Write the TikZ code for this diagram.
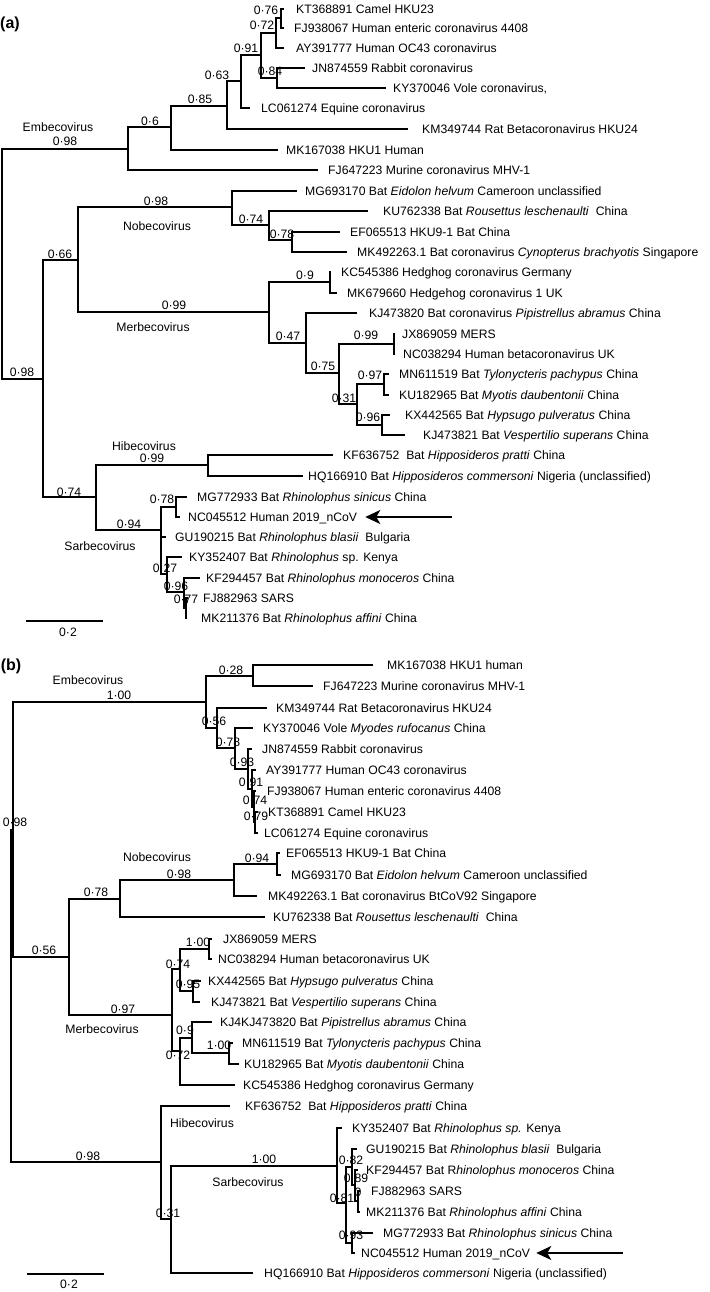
\documentclass[tikz,border=0pt]{standalone}
\usepackage{fontspec}
\setmainfont{Liberation Sans}
\usetikzlibrary{arrows.meta}
\tikzset{
    branch/.style={line width=1.1pt},
    leaf/.style={anchor=west, inner xsep=#1, inner ysep=0pt, text height=8.5pt, text depth=0pt},
    leaf/.default=8pt,
    pp/.style={inner sep=0pt},
    clade/.style={inner sep=0pt},
    panel/.style={inner sep=0pt, font=\fontsize{16}{18}\selectfont\bfseries},
    pointer/.style={line width=1.8pt, -{Stealth[length=15pt, width=14pt, inset=4pt]}},
    scalebar/.style={line width=1.1pt}
}

\begin{document}
\begin{tikzpicture}[x=1pt, y=-1pt, font=\fontsize{12.2}{15}\selectfont]
\useasboundingbox (0,0) rectangle (709,1292);

\node[panel] (pa) at (10,24) {(a)};

\coordinate (ra) at (2,264);
\coordinate (ea) at (128,149);
\coordinate (a6) at (171,127);
\coordinate (a85) at (227,106);
\coordinate (a63) at (241,81);
\coordinate (a91) at (261,55);
\coordinate (a72) at (276,33);
\coordinate (a76) at (281,18);
\coordinate (a84) at (277,78);
\coordinate (a2) at (43,379);
\coordinate (a66) at (78,260);
\coordinate (noba) at (232,207);
\coordinate (a74n) at (269,225);
\coordinate (a78n) at (292,240);
\coordinate (merba) at (269,312);
\coordinate (a9) at (330,282);
\coordinate (a47) at (306,343);
\coordinate (a75) at (339,373);
\coordinate (a99) at (394,344);
\coordinate (a31) at (357,404);
\coordinate (a97) at (384,384);
\coordinate (a96) at (382,425);
\coordinate (hsa) at (96,497);
\coordinate (hiba) at (208,465);
\coordinate (sarba) at (161,530);
\coordinate (a78s) at (176,507);
\coordinate (a27) at (167,574);
\coordinate (a96s) at (184,592);
\coordinate (a77) at (186,608);

\node[leaf=12pt] (kt368891a) at (284,9) {KT368891 Camel HKU23};
\node[leaf=10pt] (fj938067a) at (284,28) {FJ938067 Human enteric coronavirus 4408};
\node[leaf=12pt] (ay391777a) at (284,48) {AY391777 Human OC43 coronavirus};
\node[leaf=7pt] (jn874559a) at (305,68) {JN874559 Rabbit coronavirus};
\node[leaf=7pt] (ky370046a) at (386,88) {KY370046 Vole coronavirus,};
\node[leaf=11pt] (lc061274a) at (250,108) {LC061274 Equine coronavirus};
\node[leaf=14pt] (km349744a) at (408,129) {KM349744 Rat Betacoronavirus HKU24};
\node[leaf] (mk167038a) at (278,150) {MK167038 HKU1 Human};
\node[leaf=10pt] (fj647223a) at (318,170) {FJ647223 Murine coronavirus MHV-1};
\node[leaf] (mg693170a) at (297,191) {MG693170 Bat \textit{Eidolon helvum} Cameroon unclassified};
\node[leaf=15pt] (ku762338a) at (368,211) {KU762338 Bat \textit{Rousettus leschenaulti}\ \ China};
\node[leaf=10pt] (ef065513a) at (340,232) {EF065513 HKU9-1 Bat China};
\node[leaf=10pt] (mk492263a) at (347,252) {MK492263.1 Bat coronavirus \textit{Cynopterus brachyotis} Singapore};
\node[leaf=10pt] (kc545386a) at (331,272) {KC545386 Hedghog coronavirus Germany};
\node[leaf=10pt] (mk679660a) at (337,293) {MK679660 Hedgehog coronavirus 1 UK};
\node[leaf=12pt] (kj473820a) at (357,313) {KJ473820 Bat coronavirus \textit{Pipistrellus abramus} China};
\node[leaf=7pt] (jx869059a) at (395,334) {JX869059 MERS};
\node[leaf] (nc038294a) at (395,354) {NC038294 Human betacoronavirus UK};
\node[leaf=10pt] (mn611519a) at (389,374) {MN611519 Bat \textit{Tylonycteris pachypus} China};
\node[leaf=10pt] (ku182965a) at (389,395) {KU182965 Bat \textit{Myotis daubentonii} China};
\node[leaf=15pt] (kx442565a) at (390,415) {KX442565 Bat \textit{Hypsugo pulveratus} China};
\node[leaf=18pt] (kj473821a) at (405,435) {KJ473821 Bat \textit{Vespertilio superans} China};
\node[leaf=10pt] (kf636752a) at (333,455) {KF636752\ \ Bat \textit{Hipposideros pratti} China};
\node[leaf=5pt] (hq166910a) at (303,476) {HQ166910 Bat \textit{Hipposideros commersoni} Nigeria (unclassified)};
\node[leaf=10pt] (mg772933a) at (187,497) {MG772933 Bat \textit{Rhinolophus sinicus} China};
\node[leaf] (nc045512a) at (180,517) {NC045512 Human 2019\_nCoV};
\node[leaf=9pt] (gu190215a) at (166,537) {GU190215 Bat \textit{Rhinolophus blasii}\ \ Bulgaria};
\node[leaf=7pt] (ky352407a) at (182,557) {KY352407 Bat \textit{Rhinolophus} sp. Kenya};
\node[leaf=6pt] (kf294457a) at (200,578) {KF294457 Bat \textit{Rhinolophus monoceros} China};
\node[leaf=15pt] (fj882963a) at (188,598) {FJ882963 SARS};
\node[leaf=14pt] (mk211376a) at (187,618) {MK211376 Bat \textit{Rhinolophus affini} China};

\draw[branch] (ra) |- (ea) (ra) |- (a2);
\draw[branch] (ea) |- (a6) (ea) |- (fj647223a);
\draw[branch] (a6) |- (a85) (a6) |- (mk167038a);
\draw[branch] (a85) |- (a63) (a85) |- (km349744a);
\draw[branch] (a63) |- (a91) (a63) |- (lc061274a);
\draw[branch] (a91) |- (a72) (a91) |- (a84);
\draw[branch] (a72) |- (a76) (a72) |- (ay391777a);
\draw[branch] (a76) |- (kt368891a) (a76) |- (fj938067a);
\draw[branch] (a84) |- (jn874559a) (a84) |- (ky370046a);
\draw[branch] (a2) |- (a66) (a2) |- (hsa);
\draw[branch] (a66) |- (noba) (a66) |- (merba);
\draw[branch] (noba) |- (mg693170a) (noba) |- (a74n);
\draw[branch] (a74n) |- (ku762338a) (a74n) |- (a78n);
\draw[branch] (a78n) |- (ef065513a) (a78n) |- (mk492263a);
\draw[branch] (merba) |- (a9) (merba) |- (a47);
\draw[branch] (a9) |- (kc545386a) (a9) |- (mk679660a);
\draw[branch] (a47) |- (kj473820a) (a47) |- (a75);
\draw[branch] (a75) |- (a99) (a75) |- (a31);
\draw[branch] (a99) |- (jx869059a) (a99) |- (nc038294a);
\draw[branch] (a31) |- (a97) (a31) |- (a96);
\draw[branch] (a97) |- (mn611519a) (a97) |- (ku182965a);
\draw[branch] (a96) |- (kx442565a) (a96) |- (kj473821a);
\draw[branch] (hsa) |- (hiba) (hsa) |- (sarba);
\draw[branch] (hiba) |- (kf636752a) (hiba) |- (hq166910a);
\draw[branch] (sarba) |- (a78s) (sarba) |- (gu190215a) (sarba) |- (a27);
\draw[branch] (a78s) |- (mg772933a) (a78s) |- (nc045512a);
\draw[branch] (a27) |- (ky352407a) (a27) |- (a96s);
\draw[branch] (a96s) |- (kf294457a) (a96s) |- (a77);
\draw[branch] (a77) |- (fj882963a) (a77) |- (mk211376a);

\node[pp] (pa76) at (266,10) {0·76};
\node[pp] (pa72) at (262,25) {0·72};
\node[pp] (pa91) at (246,48) {0·91};
\node[pp] (pa84) at (270,71) {0·84};
\node[pp] (pa63) at (217,75) {0·63};
\node[pp] (pa85) at (200,99) {0·85};
\node[pp] (pa6) at (150,121) {0·6};
\node[clade] (cemba) at (58,127) {Embecovirus};
\node[pp] (pemba) at (65,141) {0·98};
\node[pp] (pnoba) at (156,201) {0·98};
\node[clade] (cnoba) at (157,226) {Nobecovirus};
\node[pp] (pa74n) at (251,219) {0·74};
\node[pp] (pa78n) at (282,234) {0·78};
\node[pp] (pa66) at (60,254) {0·66};
\node[pp] (pa9) at (305,275) {0·9};
\node[pp] (pmerba) at (174,305) {0·99};
\node[clade] (cmerba) at (153,327) {Merbecovirus};
\node[pp] (pa47) at (288,336) {0·47};
\node[pp] (pra) at (22,372) {0·98};
\node[pp] (pa75) at (323,366) {0·75};
\node[pp] (pa99) at (366,335) {0·99};
\node[pp] (pa97) at (370,375) {0·97};
\node[pp] (pa31) at (344,398) {0·31};
\node[pp] (pa96) at (368,417) {0·96};
\node[clade] (chiba) at (144,446) {Hibecovirus};
\node[pp] (phiba) at (152,458) {0·99};
\node[pp] (phsa) at (69,492) {0·74};
\node[pp] (pa78s) at (162,499) {0·78};
\node[pp] (psarba) at (129,524) {0·94};
\node[clade] (csarba) at (100,546) {Sarbecovirus};
\node[pp] (pa27) at (165,568) {0·27};
\node[pp] (pa96s) at (176,586) {0·96};
\node[pp] (pa77) at (186,599) {0·77};

\coordinate (arra) at (452,517);
\draw[pointer] (arra) -- (nc045512a.east);

\coordinate (sba1) at (26,621);
\coordinate (sba2) at (103,621);
\draw[scalebar] (sba1) -- (sba2);
\node[pp] (sla) at (68,632) {0·2};

\node[panel] (pb) at (11,666) {(b)};

\coordinate (rb) at (11,996);
\coordinate (b2) at (13,830);
\coordinate (eb) at (206,702);
\coordinate (b28) at (253,676);
\coordinate (b56e) at (217,728);
\coordinate (b78e) at (235,748);
\coordinate (b93) at (248,769);
\coordinate (b91) at (252,789);
\coordinate (b74) at (254,807);
\coordinate (b79) at (255,822);
\coordinate (b56) at (69,957);
\coordinate (b78n) at (120,899);
\coordinate (nobb) at (234,880);
\coordinate (b94) at (277,864);
\coordinate (merbb) at (172,1015);
\coordinate (b74m) at (180,969);
\coordinate (b100m) at (209,949);
\coordinate (b95) at (193,991);
\coordinate (b72) at (180,1051);
\coordinate (b9) at (192,1038);
\coordinate (b100t) at (229,1053);
\coordinate (hsb) at (161,1162);
\coordinate (b31) at (171,1219);
\coordinate (sarbb) at (337,1166);
\coordinate (b81) at (346,1203);
\coordinate (b82) at (352,1167);
\coordinate (b89) at (355,1185);
\coordinate (b0) at (358,1201);
\coordinate (b93s) at (352,1243);

\node[leaf=14pt] (mk167038b) at (373,665) {MK167038 HKU1 human};
\node[leaf=10pt] (fj647223b) at (313,686) {FJ647223 Murine coronavirus MHV-1};
\node[leaf=9pt] (km349744b) at (267,708) {KM349744 Rat Betacoronavirus HKU24};
\node[leaf=10pt] (ky370046b) at (253,728) {KY370046 Vole \textit{Myodes rufocanus} China};
\node[leaf=10pt] (jn874559b) at (252,749) {JN874559 Rabbit coronavirus};
\node[leaf=10pt] (ay391777b) at (256,770) {AY391777 Human OC43 coronavirus};
\node[leaf=11pt] (fj938067b) at (256,791) {FJ938067 Human enteric coronavirus 4408};
\node[leaf=10pt] (kt368891b) at (258,812) {KT368891 Camel HKU23};
\node[leaf=6pt] (lc061274b) at (258,833) {LC061274 Equine coronavirus};
\node[leaf=6pt] (ef065513b) at (280,853) {EF065513 HKU9-1 Bat China};
\node[leaf=10pt] (mg693170b) at (281,875) {MG693170 Bat \textit{Eidolon helvum} Cameroon unclassified};
\node[leaf=11pt] (mk492263b) at (257,896) {MK492263.1 Bat coronavirus BtCoV92 Singapore};
\node[leaf] (ku762338b) at (265,917) {KU762338 Bat \textit{Rousettus leschenaulti}\ \ China};
\node[leaf=11pt] (jx869059b) at (212,939) {JX869059 MERS};
\node[leaf=6pt] (nc038294b) at (212,959) {NC038294 Human betacoronavirus UK};
\node[leaf=7pt] (kx442565b) at (201,981) {KX442565 Bat \textit{Hypsugo pulveratus} China};
\node[leaf=11pt] (kj473821b) at (200,1002) {KJ473821 Bat \textit{Vespertilio superans} China};
\node[leaf] (kj473820b) at (212,1022) {KJ4KJ473820 Bat \textit{Pipistrellus abramus} China};
\node[leaf=9pt] (mn611519b) at (233,1043) {MN611519 Bat \textit{Tylonycteris pachypus} China};
\node[leaf=5pt] (ku182965b) at (239,1064) {KU182965 Bat \textit{Myotis daubentonii} China};
\node[leaf] (kc545386b) at (235,1085) {KC545386 Hedghog coronavirus Germany};
\node[leaf=15pt] (kf636752b) at (230,1106) {KF636752\ \ Bat \textit{Hipposideros pratti} China};
\node[leaf=10pt] (ky352407b) at (342,1128) {KY352407 Bat \textit{Rhinolophus sp.} Kenya};
\node[leaf=9pt] (gu190215b) at (357,1149) {GU190215 Bat \textit{Rhinolophus blasii}\ \ Bulgaria};
\node[leaf] (kf294457b) at (358,1170) {KF294457 Bat R\textit{hinolophus monoceros} China};
\node[leaf=11pt] (fj882963b) at (360,1191) {FJ882963 SARS};
\node[leaf=6pt] (mk211376b) at (360,1212) {MK211376 Bat \textit{Rhinolophus affini} China};
\node[leaf=10pt] (mg772933b) at (373,1233) {MG772933 Bat \textit{Rhinolophus sinicus} China};
\node[leaf=6pt] (nc045512b) at (355,1253) {NC045512 Human 2019\_nCoV};
\node[leaf=11pt] (hq166910b) at (253,1273) {HQ166910 Bat \textit{Hipposideros commersoni} Nigeria (unclassified)};

\draw[branch] (rb) |- (b2) (rb) |- (hsb);
\draw[branch] (b2) |- (eb) (b2) |- (b56);
\draw[branch] (eb) |- (b28) (eb) |- (b56e);
\draw[branch] (b28) |- (mk167038b) (b28) |- (fj647223b);
\draw[branch] (b56e) |- (km349744b) (b56e) |- (b78e);
\draw[branch] (b78e) |- (ky370046b) (b78e) |- (b93);
\draw[branch] (b93) |- (jn874559b) (b93) |- (b91);
\draw[branch] (b91) |- (ay391777b) (b91) |- (b74);
\draw[branch] (b74) |- (fj938067b) (b74) |- (b79);
\draw[branch] (b79) |- (kt368891b) (b79) |- (lc061274b);
\draw[branch] (b56) |- (b78n) (b56) |- (merbb);
\draw[branch] (b78n) |- (nobb) (b78n) |- (ku762338b);
\draw[branch] (nobb) |- (b94) (nobb) |- (mk492263b);
\draw[branch] (b94) |- (ef065513b) (b94) |- (mg693170b);
\draw[branch] (merbb) |- (b74m) (merbb) |- (b72);
\draw[branch] (b74m) |- (b100m) (b74m) |- (b95);
\draw[branch] (b100m) |- (jx869059b) (b100m) |- (nc038294b);
\draw[branch] (b95) |- (kx442565b) (b95) |- (kj473821b);
\draw[branch] (b72) |- (b9) (b72) |- (kc545386b);
\draw[branch] (b9) |- (kj473820b) (b9) |- (b100t);
\draw[branch] (b100t) |- (mn611519b) (b100t) |- (ku182965b);
\draw[branch] (hsb) |- (kf636752b) (hsb) |- (b31);
\draw[branch] (b31) |- (sarbb) (b31) |- (hq166910b);
\draw[branch] (sarbb) |- (ky352407b) (sarbb) |- (b81);
\draw[branch] (b81) |- (b82) (b81) |- (b93s);
\draw[branch] (b82) |- (gu190215b) (b82) |- (b89);
\draw[branch] (b89) |- (kf294457b) (b89) |- (b0);
\draw[branch] (b0) |- (fj882963b) (b0) |- (mk211376b);
\draw[branch] (b93s) |- (mg772933b) (b93s) |- (nc045512b);

\node[pp] (pb28) at (231,670) {0·28};
\node[clade] (cembb) at (88,680) {Embecovirus};
\node[pp] (pembb) at (119,695) {1·00};
\node[pp] (pb56e) at (214,721) {0·56};
\node[pp] (pb78e) at (228,742) {0·78};
\node[pp] (pb93) at (242,762) {0·93};
\node[pp] (pb91) at (251,782) {0·91};
\node[pp] (pb74) at (255,800) {0·74};
\node[pp] (pb79) at (256,816) {0·79};
\node[pp] (prb) at (15,822) {0·98};
\node[clade] (cnobb) at (157,857) {Nobecovirus};
\node[pp] (pb94) at (257,858) {0·94};
\node[pp] (pnobb) at (179,874) {0·98};
\node[pp] (pb78n) at (96,892) {0·78};
\node[pp] (pb56) at (44,950) {0·56};
\node[pp] (pb100m) at (198,942) {1·00};
\node[pp] (pb74m) at (178,964) {0·74};
\node[pp] (pb95) at (188,984) {0·95};
\node[pp] (pmerbb) at (123,1009) {0·97};
\node[clade] (cmerbb) at (102,1029) {Merbecovirus};
\node[pp] (pb9) at (185,1030) {0·9};
\node[pp] (pb100t) at (219,1045) {1·00};
\node[pp] (pb72) at (178,1055) {0·72};
\node[clade] (chibb) at (202,1123) {Hibecovirus};
\node[pp] (phsb) at (88,1156) {0·98};
\node[pp] (psarbb) at (264,1159) {1·00};
\node[clade] (csarbb) at (248,1182) {Sarbecovirus};
\node[pp] (pb31) at (168,1213) {0·31};
\node[pp] (pb82) at (351,1160) {0·82};
\node[pp] (pb89) at (356,1178) {0·89};
\node[pp] (pb81) at (342,1198) {0·81};
\node[pp] (pb0) at (358,1192) {0};
\node[pp] (pb93s) at (351,1235) {0·93};

\coordinate (arrb) at (623,1253);
\draw[pointer] (arrb) -- (nc045512b.east);

\coordinate (sbb1) at (27,1274);
\coordinate (sbb2) at (104,1274);
\draw[scalebar] (sbb1) -- (sbb2);
\node[pp] (slb) at (69,1284) {0·2};
\end{tikzpicture}
\end{document}
